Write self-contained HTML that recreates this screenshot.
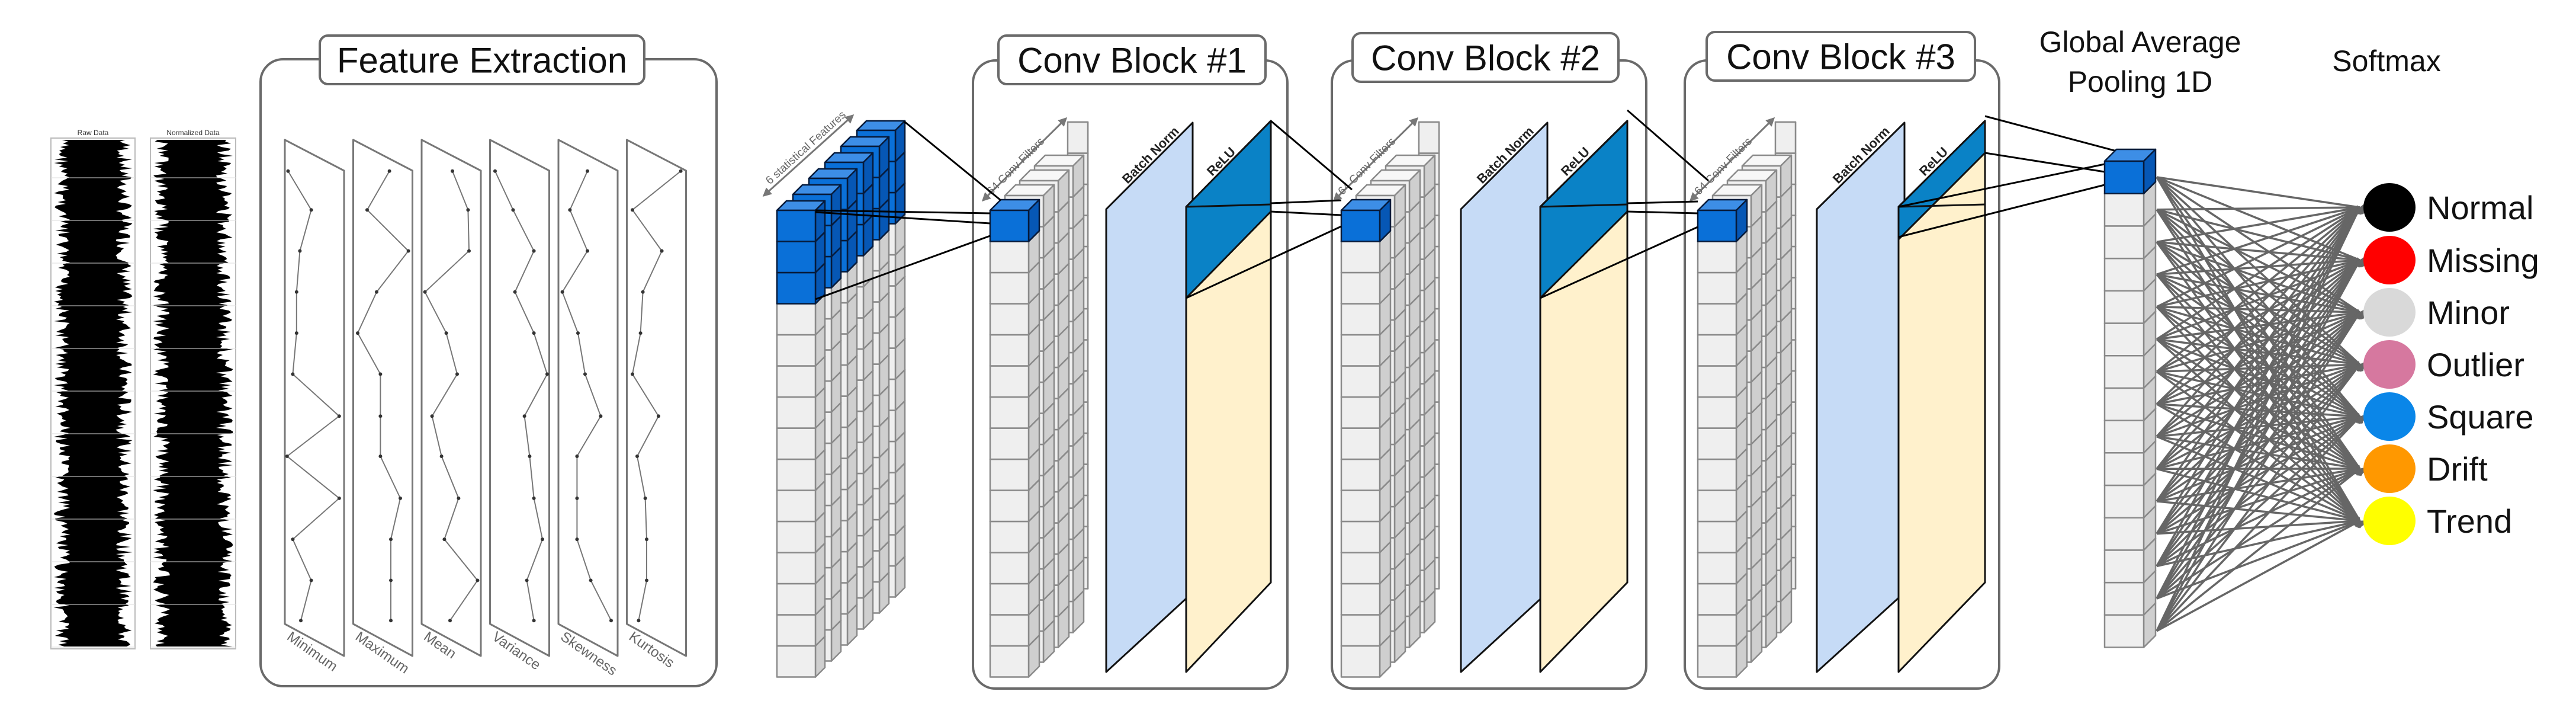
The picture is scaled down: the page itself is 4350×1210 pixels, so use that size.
<!DOCTYPE html>
<html><head><meta charset="utf-8">
<style>
html,body{margin:0;padding:0;background:#fff;}
#c{width:4350px;height:1210px;position:relative;overflow:hidden;}
svg text{font-family:"Liberation Sans",sans-serif;}
</style></head>
<body><div id="c"></div>
<script>
var s=[];
function P(pts,f,st,sw){s.push('<polygon points="'+pts.map(p=>p[0].toFixed(1)+','+p[1].toFixed(1)).join(' ')+'" fill="'+f+'" stroke="'+(st||'none')+'" stroke-width="'+(sw||2)+'" stroke-linejoin="round"/>');}
function L(a,b,c,d,st,sw,extra){s.push('<line x1="'+a+'" y1="'+b+'" x2="'+c+'" y2="'+d+'" stroke="'+(st||'#000')+'" stroke-width="'+(sw||3)+'" '+(extra||'')+'/>');}
function T(x,y,t,fs,opt){s.push('<text x="'+x+'" y="'+y+'" font-size="'+fs+'" '+(opt||'')+'>'+t+'</text>');}
var G={f:'#efefef',t:'#f7f7f7',r:'#cfcfcf',s:'#8a8a8a'};
var B={f:'#0a70d8',t:'#3d8ee6',r:'#0657b5',s:'#061a3a'};
function cube(x,y,w,h,d,c){
 P([[x,y],[x+d,y-d],[x+w+d,y-d],[x+w,y]],c.t,c.s,2.5);
 P([[x+w,y],[x+w+d,y-d],[x+w+d,y+h-d],[x+w,y+h]],c.r,c.s,2.5);
 P([[x,y],[x+w,y],[x+w,y+h],[x,y+h]],c.f,c.s,2.5);
}
function column(x,y,w,h,d,n,blueN){
 for(var i=n-1;i>=0;i--) cube(x,y+i*h,w,h,d,i<blueN?B:G);
}
function stack(x,y,w,h,d,n,layers,off,blueN,frontBlueOnly){
 for(var k=layers-1;k>=0;k--){
  var bn=blueN; if(frontBlueOnly&&k>0) bn=0;
  column(x+k*off,y-k*off,w,h,d,n,bn);
 }
}
function gbox(x,y,w,h,tx,tw,ty,th,title,fs){
 s.push('<rect x="'+x+'" y="'+y+'" width="'+w+'" height="'+h+'" rx="38" fill="#fff" stroke="#6a6a6a" stroke-width="4"/>');
 s.push('<rect x="'+tx+'" y="'+ty+'" width="'+tw+'" height="'+th+'" rx="14" fill="#fff" stroke="#6a6a6a" stroke-width="4"/>');
 T(tx+tw/2,ty+th/2+fs*0.36,title,fs,'text-anchor="middle" fill="#111"');
}
function strip(x,w,label,seed){
 s.push('<rect x="'+x+'" y="233" width="'+w+'" height="862" fill="#fff" stroke="#bbb" stroke-width="2"/>');
 T(x+w/2,228,label,12,'text-anchor="middle" fill="#333"');
 var r=seed;function rnd(){r=(r*9301+49297)%233280;return r/233280;}
 var L1=[],R1=[];var cx=x+w/2;
 for(var yy=236;yy<=1092;yy+=3){L1.push([cx-w*0.27-rnd()*w*0.2,yy]);R1.push([cx+w*0.27+rnd()*w*0.2,yy]);}
 P(L1.concat(R1.reverse()),'#000');
 for(var i=0;i<12;i++){var yy=300+i*72;L(x,yy,x+w,yy,'#ddd',1);}
}
strip(86,142,'Raw Data',7);
strip(254,144,'Normalized Data',13);

gbox(440,100,770,1058,540,548,60,82,'Feature Extraction',60);
var series=[
[608,657,633,626,626,618,716,606,716,618,657,635],
[822,775,862,795,755,803,803,803,845,825,825,825],
[955,988,990,897,942,965,912,932,968,938,1008,950],
[1045,1083,1127,1087,1127,1155,1107,1118,1127,1145,1112,1127],
[1240,1203,1240,1187,1220,1235,1268,1218,1218,1218,1247,1290],
[1437,1335,1397,1357,1352,1335,1390,1345,1362,1365,1365,1348]];
var ys=[375,460,550,640,730,820,912,1000,1092,1182,1272,1360];
var names=['Minimum','Maximum','Mean','Variance','Skewness','Kurtosis'];
for(var i=0;i<6;i++){
 var lx=481+i*115.5,rx=lx+100;
 P([[lx,236],[rx,288],[rx,1107],[lx,1053]],'#fff','#777',3);
 var pts=series[i].map((v,j)=>[v*0.8,ys[j]*0.77]);
 s.push('<polyline points="'+pts.map(p=>p.join(',')).join(' ')+'" fill="none" stroke="#777" stroke-width="2"/>');
 pts.forEach(p=>s.push('<circle cx="'+p[0]+'" cy="'+p[1]+'" r="3" fill="#333"/>'));
 T(lx+2,1078,names[i],24,'fill="#666" transform="rotate(35 '+(lx+2)+' 1078)"');
}

stack(1312,355,65,52.5,16,15,6,27,3,false);
L(1290,330,1440,195,'#777',3,'marker-start="url(#ga)" marker-end="url(#ga)"');
T(1300,312,'6 statistical Features',19,'fill="#666" transform="rotate(-42 1300 312)"');

function conv(bx,bw,tx,tw,ty,title,cx,bnL,bnR,relL,relR,relBlue2){
 gbox(bx,102,bw,1060,tx,tw,ty,82,title,60);
 column(cx+131,206,34,52.5,0,15,0);
 stack(cx,355,65,52.5,18,15,4,25,1,true);
 L(cx-12,338,cx+128,200,'#777',3,'marker-start="url(#ga)" marker-end="url(#ga)"');
 T(cx+2,330,'64 Conv Filters',19,'fill="#666" transform="rotate(-45 '+(cx+2)+' 330)"');
 P([[bnL,353],[bnR,207],[bnR,1000],[bnL,1134]],'#c6dbf6','#111',3);
 T(bnL+36,311,'Batch Norm',22,'font-weight="bold" fill="#222" transform="rotate(-45 '+(bnL+36)+' 311)"');
 P([[relL,349],[relR,204],[relR,983],[relL,1134]],'#fff1cc','#111',3);
 P([[relL,349],[relR,204],[relR,relBlue2],[relL,relBlue2+146]],'#0a82c6','#111',3);
 L(relL,349,relR,345,'#111',3);
 T(relL+44,298,'ReLU',22,'font-weight="bold" fill="#222" transform="rotate(-45 '+(relL+44)+' 298)"');
}
conv(1643,531,1686,451,60,'Conv Block #1',1672,1868,2014,2003,2146,357);
conv(2249,531,2284,449,56,'Conv Block #2',2265,2467,2613,2601,2748,357);
conv(2845,531,2882,453,54,'Conv Block #3',2867,3068,3216,3206,3352,258);

L(1527,205,1690,338);L(1377,355,1672,360);L(1377,358,1672,377);L(1377,505,1672,398);
L(2146,204,2283,320);L(2146,343,2265,338);L(2146,357,2265,363);L(2003,503,2265,382);
L(2748,186,2885,305);L(2748,343,2867,340);L(2748,357,2867,360);L(2601,503,2867,383);
L(3352,196,3574,255);L(3352,258,3554,290);L(3206,349,3554,277);L(3206,400,3554,312);

column(3554,272,66,54.7,20,15,1);
T(3614,88,'Global Average',50,'text-anchor="middle" fill="#111"');
T(3614,155,'Pooling 1D',50,'text-anchor="middle" fill="#111"');
T(4030,120,'Softmax',50,'text-anchor="middle" fill="#111"');

var oy=[350,439,527,615,703,791,879];
var oc=['#000','#ff0000','#d9d9d9','#d6789f','#0a86e8','#ff9800','#ffff00'];
var on=['Normal','Missing','Minor','Outlier','Square','Drift','Trend'];
for(var i=0;i<15;i++){var yy=272+i*54.7+27;
 for(var j=0;j<7;j++) L(3642,yy,3985,oy[j],'#666',3.5,'marker-end="url(#ah)"');}
for(var j=0;j<7;j++){
 s.push('<ellipse cx="4035" cy="'+oy[j]+'" rx="44" ry="41" fill="'+oc[j]+'"/>');
 T(4098,oy[j]+20,on[j],56,'fill="#111"');
}

var defs='<defs><marker id="ah" viewBox="0 0 10 10" refX="9" refY="5" markerWidth="6" markerHeight="6" orient="auto" markerUnits="userSpaceOnUse" style="overflow:visible"><path d="M0,0 L10,5 L0,10 z" fill="#666" transform="scale(2.4) translate(-5,-5) translate(5,5)"/></marker>'+
'<marker id="ga" viewBox="0 0 10 10" refX="8" refY="5" markerWidth="5" markerHeight="5" orient="auto-start-reverse"><path d="M0,0 L10,5 L0,10 z" fill="#777"/></marker></defs>';
document.getElementById('c').innerHTML='<svg xmlns="http://www.w3.org/2000/svg" width="4350" height="1210" viewBox="0 0 4350 1210">'+defs+s.join('')+'</svg>';
</script>
</body></html>
